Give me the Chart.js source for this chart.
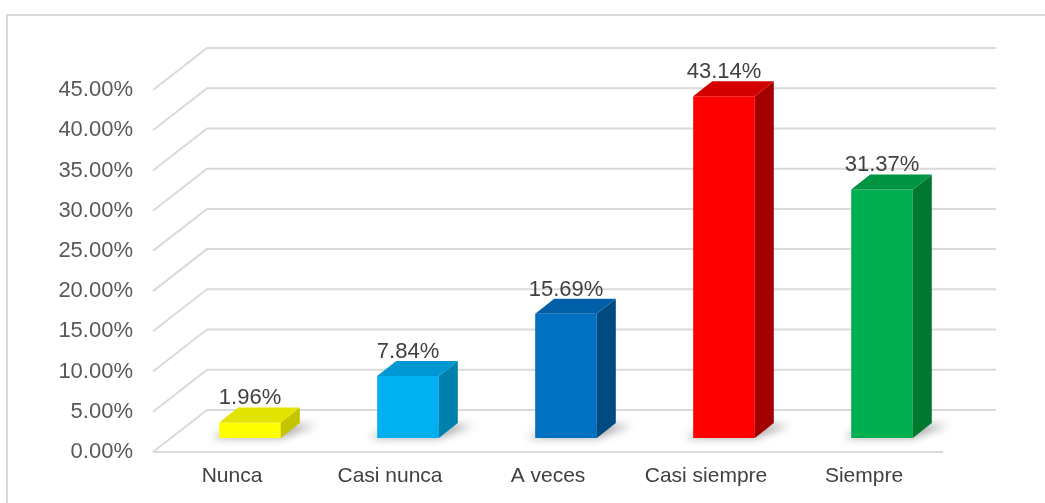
<!DOCTYPE html>
<html lang="es">
<head>
  <meta charset="UTF-8" />
  <title>Distribución de respuestas</title>
  <script src="https://cdn.jsdelivr.net/npm/chart.js"></script>
  <style>
    html, body { margin: 0; padding: 0; background: #ffffff; }
    #wrap { width: 1045px; height: 503px; }
  </style>
</head>
<body>
  <div id="wrap"><canvas id="chart" width="1045" height="503"></canvas></div>

  <script>
    // data
    const categories = ['Nunca', 'Casi nunca', 'A veces', 'Casi siempre', 'Siempre'];
    const percents = [1.96, 7.84, 15.69, 43.14, 31.37];
    const yTicks = [0, 5, 10, 15, 20, 25, 30, 35, 40, 45];

    // colours: front, side, top
    const frontColors = ['#ffff00', '#00b0f0', '#0070c0', '#ff0000', '#00b050'];
    const sideColors  = ['#c4c400', '#0080ad', '#004a82', '#a30000', '#00782f'];
    const topColors   = ['#e3e300', '#0098d2', '#005fa6', '#d40000', '#009443'];

    const FONT = 'Liberation Sans, Arial, sans-serif';
    const WALL_DX = 54, WALL_DY = -42;   // depth of the 3d box
    const BAR_DX = 18, BAR_DY = -14;     // bar front plane
    const SIDE_DX = 19, SIDE_DY = -15;   // bar thickness
    const PERSP = 0.985;                 // bars sit a bit deeper than the front plane

    const pseudo3d = {
      id: 'pseudo3d',
      beforeDraw(chart) {
        const ctx = chart.ctx;
        const { left, right, bottom } = chart.chartArea;
        const y = chart.scales.y;
        ctx.save();
        // outer frame
        ctx.strokeStyle = '#d9d9d9';
        ctx.lineWidth = 2;
        ctx.beginPath();
        ctx.moveTo(7, 503);
        ctx.lineTo(7, 15);
        ctx.lineTo(1045, 15);
        ctx.stroke();
        // walls
        ctx.strokeStyle = '#dadada';
        ctx.lineWidth = 2;
        yTicks.forEach(v => {
          const py = y.getPixelForValue(v);
          ctx.beginPath();
          ctx.moveTo(left, py);
          ctx.lineTo(left + WALL_DX, py + WALL_DY);
          ctx.lineTo(right + WALL_DX - 1, py + WALL_DY);
          ctx.stroke();
        });
        ctx.beginPath();
        ctx.moveTo(left, bottom);
        ctx.lineTo(right, bottom);
        ctx.stroke();
        ctx.restore();
      },
      beforeDatasetsDraw(chart) {
        const ctx = chart.ctx;
        const bars = chart.getDatasetMeta(0).data;
        const base = chart.chartArea.bottom;
        // soft shadows under the bars
        ctx.save();
        ctx.filter = 'blur(4px)';
        ctx.fillStyle = 'rgba(0,0,0,0.35)';
        bars.forEach(b => {
          const l = b.x - b.width / 2 + BAR_DX;
          const r = b.x + b.width / 2 + BAR_DX;
          const by = b.base + BAR_DY;
          ctx.beginPath();
          ctx.moveTo(l - 8, by);
          ctx.lineTo(r, by);
          ctx.lineTo(r + SIDE_DX + 16, by + SIDE_DY + 2);
          ctx.lineTo(l + SIDE_DX, by + SIDE_DY + 2);
          ctx.closePath();
          ctx.fill();
        });
        ctx.restore();
        ctx.save();
        ctx.translate(BAR_DX, BAR_DY + base * (1 - PERSP));
        ctx.scale(1, PERSP);
      },
      afterDatasetsDraw(chart) {
        const ctx = chart.ctx;
        ctx.restore();
        const bars = chart.getDatasetMeta(0).data;
        const base = chart.chartArea.bottom;
        const ty = v => base + (v - base) * PERSP + BAR_DY;
        ctx.save();
        bars.forEach((b, i) => {
          const l = b.x - b.width / 2 + BAR_DX;
          const r = b.x + b.width / 2 + BAR_DX;
          const t = ty(b.y);
          const bt = ty(b.base);
          // side face
          ctx.fillStyle = sideColors[i];
          ctx.beginPath();
          ctx.moveTo(r, t);
          ctx.lineTo(r + SIDE_DX, t + SIDE_DY);
          ctx.lineTo(r + SIDE_DX, bt + SIDE_DY);
          ctx.lineTo(r, bt);
          ctx.closePath();
          ctx.fill();
          // top face
          ctx.fillStyle = topColors[i];
          ctx.beginPath();
          ctx.moveTo(l, t);
          ctx.lineTo(l + SIDE_DX, t + SIDE_DY);
          ctx.lineTo(r + SIDE_DX, t + SIDE_DY);
          ctx.lineTo(r, t);
          ctx.closePath();
          ctx.fill();
          // value label
          ctx.fillStyle = '#404040';
          ctx.font = '22px ' + FONT;
          ctx.textAlign = 'center';
          ctx.textBaseline = 'alphabetic';
          ctx.fillText(percents[i].toFixed(2) + '%', (l + r) / 2, t + SIDE_DY - 3);
        });
        ctx.restore();
      }
    };

    new Chart(document.getElementById('chart'), {
      type: 'bar',
      data: {
        labels: categories,
        datasets: [{
          data: percents,
          backgroundColor: frontColors,
          borderWidth: 0,
          barPercentage: 0.39,
          categoryPercentage: 1
        }]
      },
      options: {
        responsive: false,
        animation: false,
        layout: { padding: { top: 90, right: 102, left: 0, bottom: 0 } },
        plugins: { legend: { display: false }, tooltip: { enabled: false } },
        scales: {
          x: {
            grid: { display: false, drawTicks: false },
            border: { display: false },
            ticks: { color: '#404040', font: { size: 21, family: FONT }, padding: 12, maxRotation: 0 },
            afterFit(scale) { scale.height = 51; }
          },
          y: {
            min: 0,
            max: 45,
            grid: { display: false, drawTicks: false },
            border: { display: false },
            afterBuildTicks(scale) { scale.ticks = yTicks.map(v => ({ value: v })); },
            ticks: {
              color: '#595959',
              font: { size: 22, family: FONT },
              padding: 20,
              callback: v => v.toFixed(2) + '%'
            },
            afterFit(scale) { scale.width = 153; }
          }
        }
      },
      plugins: [pseudo3d]
    });
  </script>
</body>
</html>
